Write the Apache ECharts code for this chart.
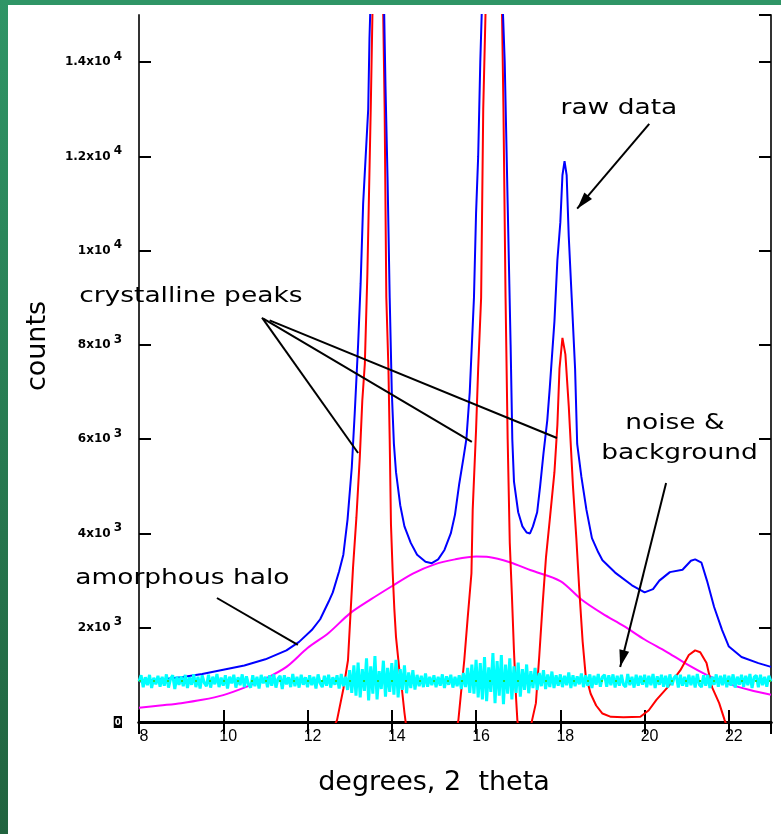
<!DOCTYPE html>
<html><head><meta charset="utf-8">
<script src="https://cdn.jsdelivr.net/npm/echarts@6/dist/echarts.min.js"></script>
<style>html,body{margin:0;padding:0;background:#fff}#c{width:781px;height:834px}</style>
</head><body><div id="c"></div><script>
// ---- tick labels ----
const xTicks = [8, 10, 12, 14, 16, 18, 20, 22];
const xTickLabels = ['8', '10', '12', '14', '16', '18', '20', '22'];
const yTicks = [0, 2000, 4000, 6000, 8000, 10000, 12000, 14000];
const yTickMantissa = ['0', '2x10', '4x10', '6x10', '8x10', '1x10', '1.2x10', '1.4x10'];
const yTickExponent = ['', '3', '3', '3', '3', '4', '4', '4'];

// ---- raw data (blue) ----
const rawX = [8.0,8.5,9.0,9.5,10.0,10.5,11.0,11.5,11.8,12.1,12.3,12.5,12.6,12.75,12.85,12.95,13.05,13.12,13.2,13.26,13.32,13.38,13.44,13.47,13.52,13.6,13.7,13.8,13.85,13.9,13.95,14.0,14.05,14.1,14.2,14.3,14.45,14.6,14.8,14.95,15.1,15.25,15.4,15.5,15.6,15.7,15.77,15.85,15.95,16.0,16.05,16.1,16.15,16.3,16.5,16.62,16.68,16.75,16.82,16.86,16.9,17.0,17.1,17.2,17.28,17.35,17.45,17.52,17.6,17.69,17.75,17.86,17.93,18.0,18.05,18.1,18.15,18.2,18.27,18.35,18.4,18.5,18.62,18.75,18.9,19.0,19.3,19.7,20.0,20.2,20.35,20.6,20.9,21.1,21.2,21.35,21.48,21.65,21.84,22.0,22.3,22.7,23.0];
const rawY = [860,900,950,1020,1110,1200,1330,1520,1700,1950,2180,2550,2750,3200,3550,4300,5400,6550,8000,9300,11000,12000,13000,14500,16000,17500,17500,16000,13500,11500,9000,7000,5900,5300,4600,4150,3800,3550,3400,3370,3450,3650,4000,4400,5050,5600,6000,7000,9000,10800,12000,14000,15500,17500,17500,15500,14000,11000,8000,6000,5100,4450,4150,4020,4000,4150,4450,5000,5700,6400,7100,8500,9800,10600,11600,11900,11600,10300,9000,7500,5900,5200,4500,3900,3600,3430,3170,2900,2750,2820,3000,3180,3230,3420,3450,3380,3000,2440,1950,1600,1380,1250,1170];

// ---- crystalline peaks (red) ----
const peakX = [8.0,10.0,12.0,12.6,12.7,12.85,12.96,13.02,13.08,13.16,13.24,13.3,13.36,13.42,13.5,13.56,13.7,13.78,13.83,13.87,13.92,13.95,13.98,14.02,14.06,14.1,14.18,14.24,14.3,14.4,15.0,15.5,15.58,15.65,15.72,15.8,15.89,15.92,16.0,16.05,16.12,16.17,16.25,16.45,16.6,16.65,16.7,16.75,16.8,16.85,16.9,16.95,16.98,17.1,17.3,17.33,17.42,17.5,17.58,17.66,17.75,17.86,17.93,17.98,18.05,18.12,18.2,18.3,18.38,18.45,18.53,18.6,18.72,18.85,19.0,19.2,19.5,19.9,20.1,20.28,20.55,20.85,21.05,21.2,21.32,21.47,21.6,21.77,21.9,22.2,23.0];
const peakY = [-2000,-1500,-600,-150,40,700,1310,2300,3280,4340,5610,6820,7600,9500,13000,16000,18500,16000,13000,9000,7500,6000,4200,3200,2400,1800,1100,700,200,-500,-1500,-300,40,680,1310,2200,3150,4500,6200,7500,9000,13000,16000,19000,16000,13000,9000,6000,3800,2700,1500,500,40,-700,-100,40,400,1400,2500,3500,4300,5300,6300,7500,8150,7800,6700,5000,3900,2800,1700,1000,600,350,180,110,100,110,250,470,740,1100,1420,1520,1480,1250,740,400,40,-700,-2000];

// ---- amorphous halo (magenta) ----
const haloX = [8.0,8.5,9.0,9.5,10.0,10.5,11.0,11.5,12.0,12.5,13.0,13.5,14.0,14.5,15.0,15.5,16.0,16.3,16.8,17.3,18.0,18.5,19.0,19.5,20.0,20.5,21.0,21.5,22.0,22.5,23.0];
const haloY = [300,350,400,470,570,730,920,1170,1570,1890,2300,2600,2880,3150,3340,3450,3510,3500,3390,3220,2990,2600,2300,2040,1750,1500,1230,990,810,680,580];

// ---- noise & background (cyan), sampled every 0.05 from 8.0 ----
const noiseStart = 8.0, noiseStep = 0.05;
const noiseY = [
860,990,740,950,780,1000,720,940,800,980,750,960,770,1010,730,920,990,700,960,790,
970,760,1000,720,950,790,1010,740,960,710,990,830,760,1000,730,960,800,1020,740,940,
770,990,710,960,820,1000,730,950,780,1010,740,970,800,730,990,760,960,710,1000,820,
960,740,990,770,1010,730,920,980,700,990,800,950,740,1020,760,960,730,1000,790,950,
740,990,780,960,710,1010,820,740,980,770,1000,730,950,790,990,710,1020,760,960,680,
1100,620,1200,560,1260,520,1120,660,1350,460,1180,600,1400,480,1080,700,1300,540,1150,640,
1250,580,1320,520,1120,680,1200,610,1050,720,1100,690,1000,760,980,740,1030,750,960,780,
990,740,960,770,1010,720,970,790,1000,730,960,760,990,700,1040,740,1150,620,1220,600,
1320,520,1250,480,1380,440,1160,640,1460,400,1290,560,1420,380,1220,600,1350,480,1180,620,
1260,540,1120,680,1220,610,1080,720,1150,680,1040,760,1100,700,1010,740,1070,720,990,770,
1010,740,980,780,1050,720,990,760,970,800,1030,740,990,770,1010,720,980,790,1020,750,
960,1000,750,990,780,1010,730,980,770,1000,790,740,1020,780,960,730,1000,770,980,790,
1000,740,980,780,1020,720,970,790,1000,750,980,730,1010,780,940,990,730,1000,770,960,
750,1000,780,980,730,1020,790,740,990,770,1000,720,960,790,1010,750,980,780,1000,740,
980,770,1010,730,960,790,1000,750,980,780,1020,720,950,990,740,1000,780,960,750,980,
860];
const baseY = noiseY.map(() => 870);

// ---- annotations (data coordinates) ----
const annoTexts = [
  { text: 'raw data', at: [19.39, 13008] },
  { text: 'crystalline peaks', at: [9.23, 9019] },
  { text: 'amorphous halo', at: [9.03, 3034] },
  { text: 'noise &', at: [20.72, 6324] },
  { text: 'background', at: [20.83, 5687] }
];
const annoLines = [
  { from: [20.11, 12690], to: [18.4, 10890], arrow: true },
  { from: [10.92, 8580], to: [13.2, 5708], arrow: false },
  { from: [10.95, 8560], to: [15.9, 5942], arrow: false },
  { from: [11.1, 8520], to: [17.92, 6026], arrow: false },
  { from: [9.85, 2631], to: [11.77, 1634], arrow: false },
  { from: [20.51, 5072], to: [19.42, 1167], arrow: true }
];

const zip = (xs, ys) => xs.map((x, i) => [x, ys[i]]);
const noiseData = noiseY.map((v, i) => [+(noiseStart + i * noiseStep).toFixed(2), v]);
const baseData = baseY.map((v, i) => [+(noiseStart + i * noiseStep).toFixed(2), v]);

const chart = echarts.init(document.getElementById('c'));
const tickStyle = { inside: true, length: 12, lineStyle: { color: '#000', width: 2 } };
const option = {
  backgroundColor: '#fff',
  animation: false,
  grid: { left: 139, right: 10, top: 15, bottom: 112, containLabel: false },
  xAxis: [
    { type: 'value', min: 8, max: 23, interval: 2, position: 'bottom',
      axisLine: { lineStyle: { color: '#000', width: 3 } },
      axisTick: tickStyle,
      splitLine: { show: false },
      axisLabel: { showMaxLabel: false, margin: 7, padding: [0, 0, 0, 10], color: '#000',
        fontFamily: 'Liberation Sans', fontSize: 16,
        formatter: v => { const i = xTicks.indexOf(v); return i < 0 ? '' : xTickLabels[i]; } } },
    { type: 'value', min: 8, max: 23, interval: 2, position: 'top',
      axisLine: { lineStyle: { color: '#000', width: 3 } },
      axisTick: tickStyle, axisLabel: { show: false }, splitLine: { show: false } }
  ],
  yAxis: [
    { type: 'value', min: 0, max: 15000, interval: 2000, position: 'left',
      axisLine: { show: true, lineStyle: { color: '#333', width: 2 } },
      axisTick: tickStyle,
      splitLine: { show: false },
      axisLabel: { showMaxLabel: false, margin: 17, color: '#000',
        formatter: v => {
          const i = yTicks.indexOf(v);
          if (i < 0) return '';
          if (i === 0) return '{z|' + yTickMantissa[0] + '}';
          return '{m|' + yTickMantissa[i] + '}{s|' + yTickExponent[i] + '}';
        },
        rich: {
          m: { fontFamily: 'DejaVu Sans', fontWeight: 'bold', fontSize: 12, color: '#000' },
          s: { fontFamily: 'DejaVu Sans', fontWeight: 'bold', fontSize: 12, color: '#000', padding: [0, 0, 11, 3] },
          z: { fontFamily: 'DejaVu Sans', fontWeight: 'bold', fontSize: 9, color: '#fff', backgroundColor: '#000', padding: [2, 1, 1, 1] }
        } } },
    { type: 'value', min: 0, max: 15000, interval: 2000, position: 'right',
      axisLine: { show: true, lineStyle: { color: '#333', width: 2 } },
      axisTick: tickStyle, axisLabel: { show: false }, splitLine: { show: false } }
  ],
  series: [
    { name: 'amorphous halo', type: 'line', data: zip(haloX, haloY), showSymbol: false, smooth: 0.3,
      lineStyle: { color: '#ff00ff', width: 2 }, z: 2 },
    { name: 'crystalline peaks', type: 'line', data: zip(peakX, peakY), showSymbol: false,
      lineStyle: { color: '#ff0000', width: 2 }, z: 3 },
    { name: 'raw data', type: 'line', data: zip(rawX, rawY), showSymbol: false,
      lineStyle: { color: '#0000ff', width: 2 }, z: 4 },
    { name: 'noise', type: 'line', data: noiseData, showSymbol: false,
      lineStyle: { color: '#00ffff', width: 3 }, z: 5 },
    { name: 'background', type: 'line', data: baseData, showSymbol: false,
      lineStyle: { color: '#22dd44', width: 2, type: [2, 12] }, z: 6 }
  ]
};
chart.setOption(option);

// ---- graphic overlay: frame decoration, titles, annotations ----
const P = p => chart.convertToPixel({ xAxisIndex: 0, yAxisIndex: 0 }, p);
const g = [];
g.push({ type: 'rect', shape: { x: 0, y: 0, width: 781, height: 5 }, style: { fill: '#2f9566' }, z: 50 });
g.push({ type: 'rect', shape: { x: 0, y: 0, width: 8, height: 834 },
  style: { fill: new echarts.graphic.LinearGradient(0, 0, 0, 1, [{ offset: 0, color: '#2f9566' }, { offset: 1, color: '#21633f' }]) }, z: 50 });
g.push({ type: 'text', x: 434, y: 783, z: 60,
  style: { text: 'degrees, 2  theta', font: '27px "DejaVu Sans"', fill: '#000', align: 'center', verticalAlign: 'middle' } });
g.push({ type: 'text', x: 38, y: 346, rotation: Math.PI / 2, z: 60,
  style: { text: 'counts', font: '27px "DejaVu Sans"', fill: '#000', align: 'center', verticalAlign: 'middle' } });
annoTexts.forEach(t => {
  const p = P(t.at);
  g.push({ type: 'text', x: p[0], y: p[1], scaleX: 1.26, z: 60,
    style: { text: t.text, font: '21px "DejaVu Sans"', fill: '#000', align: 'center', verticalAlign: 'middle' } });
});
annoLines.forEach(l => {
  const a = P(l.from), b = P(l.to);
  g.push({ type: 'line', z: 60, shape: { x1: a[0], y1: a[1], x2: b[0], y2: b[1] }, style: { stroke: '#000', lineWidth: 2 } });
  if (l.arrow) {
    const dx = b[0] - a[0], dy = b[1] - a[1], len = Math.hypot(dx, dy);
    const ux = dx / len, uy = dy / len, nx = -uy, ny = ux, L = 17, W = 5;
    g.push({ type: 'polygon', z: 61, shape: { points: [
      [b[0], b[1]],
      [b[0] - ux * L + nx * W, b[1] - uy * L + ny * W],
      [b[0] - ux * L - nx * W, b[1] - uy * L - ny * W]] }, style: { fill: '#000' } });
  }
});
chart.setOption({ graphic: g });
</script></body></html>
